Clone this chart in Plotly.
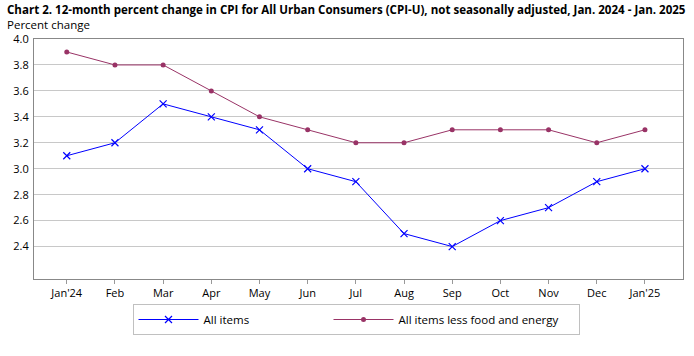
import plotly.graph_objects as go

months = ["Jan'24", "Feb", "Mar", "Apr", "May", "Jun", "Jul", "Aug", "Sep", "Oct", "Nov", "Dec", "Jan'25"]
all_items = [3.1, 3.2, 3.5, 3.4, 3.3, 3.0, 2.9, 2.5, 2.4, 2.6, 2.7, 2.9, 3.0]
core = [3.9, 3.8, 3.8, 3.6, 3.4, 3.3, 3.2, 3.2, 3.3, 3.3, 3.3, 3.2, 3.3]
yticks = [2.4, 2.6, 2.8, 3.0, 3.2, 3.4, 3.6, 3.8, 4.0]

FONT = "Open Sans"
TFONT = "Open Sans"
L, R, T, B = 34, 11, 39, 77
W, H = 694, 356
PW, PH = W - L - R, H - T - B

def px(x):
    return (x - L) / PW

def py(y):
    return (H - B - y) / PH

fig = go.Figure()
fig.add_trace(go.Scatter(x=list(range(len(months))), y=all_items, mode="lines+markers",
                         name="All items", line=dict(color="#0000ff", width=1), legendwidth=120,
                         marker=dict(symbol="x-thin", size=7, line=dict(color="#0000ff", width=1.2), color="#0000ff")))
fig.add_trace(go.Scatter(x=list(range(len(months))), y=core, mode="lines+markers",
                         name="All items less food and energy", line=dict(color="#993366", width=1), legendwidth=175,
                         marker=dict(symbol="circle", size=5, color="#993366")))

fig.update_layout(
    width=W, height=H,
    margin=dict(l=L, r=R, t=T, b=B, autoexpand=False),
    paper_bgcolor="white", plot_bgcolor="white",
    font=dict(family=FONT, size=11, color="#000000"),
    showlegend=True,
    legend=dict(orientation="h", x=px(356), xanchor="center", y=py(304), yanchor="top",
                bordercolor="#c0c0c0", borderwidth=1,
                font=dict(family=FONT, size=11.5), itemwidth=60),
    xaxis=dict(range=[-0.68, 12.79], tickmode="array", tickvals=list(range(len(months))),
               ticktext=months, showgrid=False, zeroline=False, ticks="outside", ticklen=4,
               tickcolor="#999999", showline=True, linecolor="#888888", linewidth=1, mirror=True,
               tickfont=dict(family=FONT, size=11), automargin=False),
    yaxis=dict(range=[2.15, 4.0], tickmode="array", tickvals=yticks,
               ticktext=[f"{v:.1f}" for v in yticks], showgrid=True, gridcolor="#c8c8c8",
               zeroline=False, ticks="", showline=True, linecolor="#888888", linewidth=1, mirror=True,
               tickfont=dict(family=FONT, size=11), automargin=False, ticklabelstandoff=2),
    annotations=[
        dict(text="<b>Chart 2. 12-month percent change in CPI for All Urban Consumers (CPI-U), not seasonally adjusted, Jan. 2024 - Jan. 2025</b>",
             x=px(5), y=py(10), xref="paper", yref="paper", showarrow=False, xanchor="left", yanchor="middle",
             font=dict(family=TFONT, size=11.55)),
        dict(text="Percent change", x=px(5), y=py(25), xref="paper", yref="paper", showarrow=False,
             xanchor="left", yanchor="middle", font=dict(family=FONT, size=11.5)),
    ],
)

fig.write_html("out.html", config={"displayModeBar": False},
               post_script="document.body.style.margin='0px';")
